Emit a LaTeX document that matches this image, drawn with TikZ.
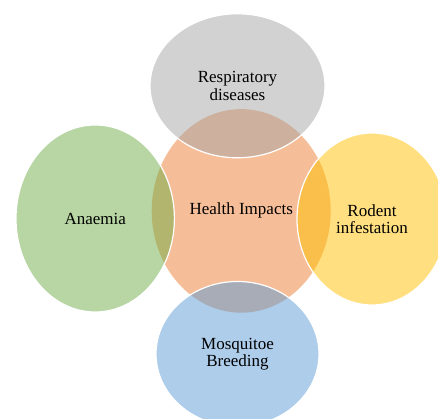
\documentclass[tikz,border=0pt]{standalone}
\usepackage{fontspec}
\setmainfont{Liberation Serif}
\usepackage{tikz}
\usetikzlibrary{shapes.geometric}

\definecolor{impactorange}{RGB}{237,125,49}
\definecolor{impactgray}{RGB}{165,165,165}
\definecolor{impactgreen}{RGB}{112,173,71}
\definecolor{impactgold}{RGB}{255,192,0}
\definecolor{impactblue}{RGB}{91,155,213}

\begin{document}
\begin{tikzpicture}[x=1pt, y=1pt, font=\fontsize{17}{17.5}\selectfont,
		bubble/.style={ellipse, inner sep=0pt, fill opacity=0.5, text opacity=1, align=center},
		rim/.style={draw=white, line width=1.2pt}]
			% \draw[very thin, gray, dashed](0, 0)grid[step=50](438, 419);
			\useasboundingbox (0, 0) rectangle (438, 419);

			\node[bubble, fill=impactorange, minimum width=179, minimum height=203.6] (health) at (241.2, 208.1) {Health Impacts};

			\node[bubble, rim, fill=impactgray, minimum width=175, minimum height=144] (respiratory) at (237.5, 333.2) {Respiratory\\diseases};
			\node[bubble, rim, fill=impactgreen, minimum width=158.4, minimum height=187] (anaemia) at (95.2, 200.5) {Anaemia};
			\node[bubble, rim, fill=impactgold, minimum width=150, minimum height=172] (rodent) at (372, 200) {Rodent\\infestation};
			\node[bubble, rim, fill=impactblue, minimum width=163, minimum height=145] (mosquito) at (237.5, 65) {Mosquitoe\\Breeding};
		\end{tikzpicture}
\end{document}
